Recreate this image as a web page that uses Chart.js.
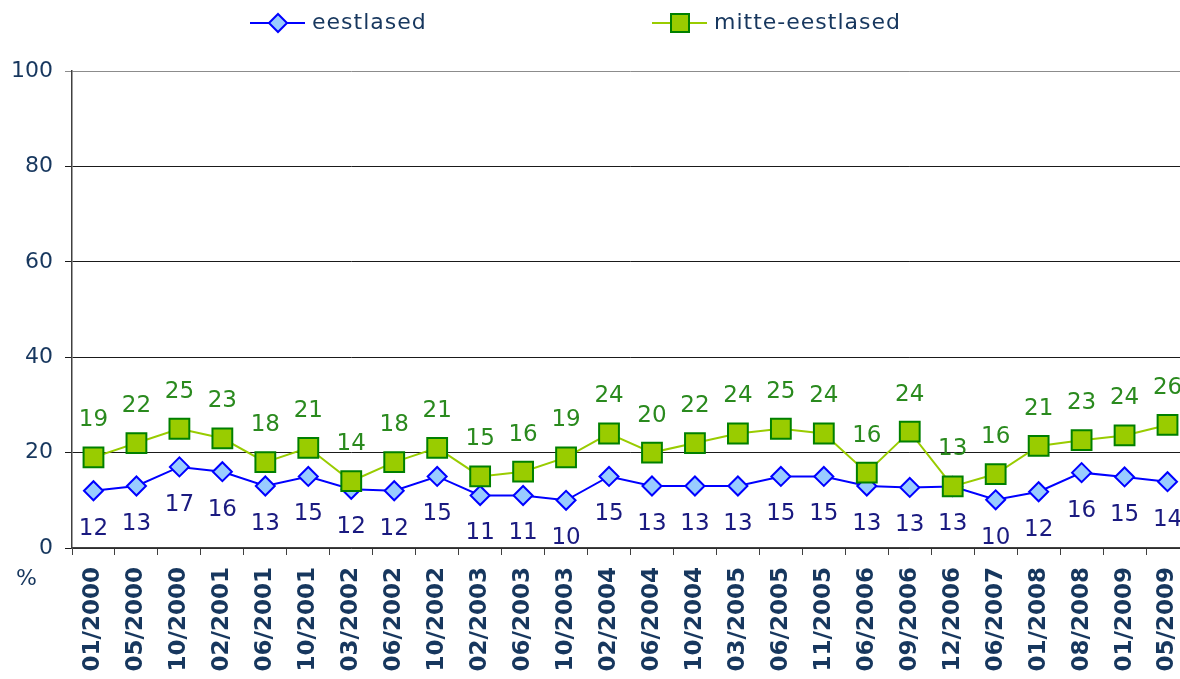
<!DOCTYPE html>
<html>
<head>
<meta charset="utf-8">
<script src="https://cdn.jsdelivr.net/npm/chart.js@4.4.0/dist/chart.umd.min.js"></script>
<style>
    html, body { margin: 0; padding: 0; background: #fff; overflow: hidden; }
    #wrap { width: 1180px; height: 679px; overflow: hidden; position: relative; }
    #lineChart { position: absolute; left: 0; top: 0; }
</style>
</head>
<body>
<div id="wrap"><canvas id="lineChart" width="1192" height="679"></canvas></div>
<script>
// Andmed
const kuupaevad = ['01/2000', '05/2000', '10/2000', '02/2001', '06/2001', '10/2001', '03/2002', '06/2002',
    '10/2002', '02/2003', '06/2003', '10/2003', '02/2004', '06/2004', '10/2004', '03/2005', '06/2005',
    '11/2005', '06/2006', '09/2006', '12/2006', '06/2007', '01/2008', '08/2008', '01/2009', '05/2009'];
const eestlased = [12, 13, 17, 16, 13, 15, 12.3, 12, 15, 11, 11, 10, 15, 13, 13, 13, 15,
    15, 13, 12.7, 12.9, 10.1, 11.8, 15.8, 14.9, 13.9];
const mitteEestlased = [19, 22, 25, 23, 18, 21, 14, 18, 21, 15, 16, 19, 24, 20, 22, 24, 25,
    24, 15.8, 24.4, 12.9, 15.5, 21.4, 22.6, 23.6, 25.8];
const yMin = 0, yMax = 100, ySamm = 20;

const tekstVarv = '#17375E';

// Väärtuste sildid punktide kohal / all
const vaartused = {
    id: 'vaartused',
    afterDatasetsDraw(chart) {
        const ctx = chart.ctx;
        ctx.save();
        ctx.font = '23px "DejaVu Sans"';
        ctx.textAlign = 'center';
        ctx.textBaseline = 'middle';
        chart.data.datasets.forEach((ds, i) => {
            const meta = chart.getDatasetMeta(i);
            ctx.fillStyle = i === 0 ? '#1A1A80' : '#2A8A1E';
            const nihe = i === 0 ? 38 : -37;
            meta.data.forEach((pt, j) => {
                ctx.fillText(String(Math.round(ds.data[j])), pt.x, pt.y + nihe);
            });
        });
        ctx.restore();
    }
};

// Legend ülal ja "%" märk
function joonistaMarker(ctx, stiil, x, y) {
    ctx.beginPath();
    if (stiil === 'rectRot') {
        ctx.moveTo(x - 9, y);
        ctx.lineTo(x, y - 9);
        ctx.lineTo(x + 9, y);
        ctx.lineTo(x, y + 9);
        ctx.closePath();
    } else {
        ctx.rect(x - 9, y - 9, 18, 18);
    }
    ctx.fill();
    ctx.stroke();
}

const legendJaProtsent = {
    id: 'legendJaProtsent',
    afterDraw(chart) {
        const ctx = chart.ctx;
        const algus = [250, 652];
        ctx.save();
        chart.data.datasets.forEach((ds, i) => {
            const x0 = algus[i];
            const y = 23;
            ctx.strokeStyle = ds.borderColor;
            ctx.lineWidth = 2;
            ctx.beginPath();
            ctx.moveTo(x0, y);
            ctx.lineTo(x0 + 55, y);
            ctx.stroke();
            ctx.fillStyle = ds.pointBackgroundColor;
            ctx.strokeStyle = ds.pointBorderColor;
            joonistaMarker(ctx, ds.pointStyle, x0 + 28, y);
            ctx.fillStyle = tekstVarv;
            ctx.font = '22px "DejaVu Sans"';
            ctx.letterSpacing = '1px';
            ctx.textAlign = 'left';
            ctx.textBaseline = 'middle';
            ctx.fillText(ds.label, x0 + 62, y);
        });
        ctx.letterSpacing = '0px';
        ctx.font = '22px "DejaVu Sans"';
        ctx.fillStyle = tekstVarv;
        ctx.textAlign = 'left';
        ctx.textBaseline = 'middle';
        ctx.fillText('%', 16, 579);
        ctx.restore();
    }
};

const config = {
    type: 'line',
    data: {
        labels: kuupaevad,
        datasets: [
            {
                label: 'eestlased',
                data: eestlased,
                borderColor: '#0000FF',
                borderWidth: 2,
                pointStyle: 'rectRot',
                pointRadius: 9.5,
                pointHoverRadius: 9.5,
                pointBackgroundColor: '#99CCFF',
                pointBorderColor: '#0000FF',
                pointBorderWidth: 2,
                tension: 0,
                order: 2
            },
            {
                label: 'mitte-eestlased',
                data: mitteEestlased,
                borderColor: '#99CC00',
                borderWidth: 2,
                pointStyle: 'rect',
                pointRadius: 14,
                pointHoverRadius: 14,
                pointBackgroundColor: '#99CC00',
                pointBorderColor: '#008000',
                pointBorderWidth: 2,
                tension: 0,
                order: 1
            }
        ]
    },
    options: {
        responsive: false,
        animation: false,
        devicePixelRatio: 1,
        // joonis on paremalt ääre taha lõigatud nagu originaalis
        layout: { autoPadding: false, padding: { top: 71, right: 3, left: 0, bottom: 0 } },
        plugins: {
            legend: { display: false },
            tooltip: { enabled: false }
        },
        scales: {
            x: {
                offset: true,
                grid: {
                    offset: true,
                    drawOnChartArea: false,
                    tickLength: 7,
                    color: '#404040'
                },
                border: { color: '#404040', width: 1.5 },
                ticks: {
                    autoSkip: false,
                    minRotation: 90,
                    maxRotation: 90,
                    padding: 12,
                    color: tekstVarv,
                    font: { family: 'DejaVu Sans', weight: 'bold', size: 23 }
                },
                afterFit: (s) => {
                    s.height = 131;
                    s.paddingLeft = 0;
                    s.paddingRight = 0;
                }
            },
            y: {
                min: yMin,
                max: yMax,
                grid: {
                    color: (c) => (c.tick && c.tick.value === yMax ? '#8C8C8C' : '#1A1A1A'),
                    lineWidth: 1,
                    tickLength: 7
                },
                border: { color: '#404040', width: 1.5 },
                ticks: {
                    stepSize: ySamm,
                    padding: 12,
                    color: tekstVarv,
                    font: { family: 'DejaVu Sans', size: 22 }
                },
                afterFit: (s) => {
                    s.width = 72;
                    s.paddingTop = 0;
                    s.paddingBottom = 0;
                }
            }
        }
    },
    plugins: [vaartused, legendJaProtsent]
};

const lineChart = new Chart(document.getElementById('lineChart'), config);
</script>
</body>
</html>
